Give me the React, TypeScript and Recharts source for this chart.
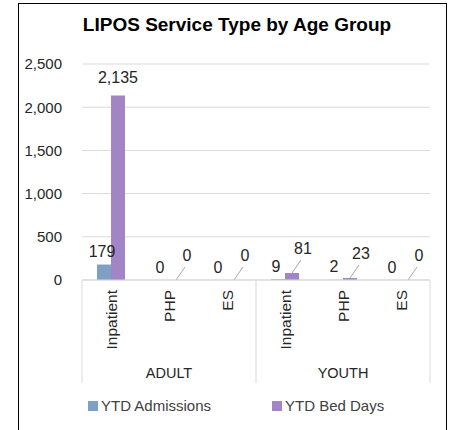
import { BarChart, Bar, XAxis, YAxis, CartesianGrid, Legend, Rectangle } from 'recharts';

const categories = ['Inpatient', 'PHP', 'ES', 'Inpatient', 'PHP', 'ES'];
const groups = ['ADULT', 'ADULT', 'ADULT', 'YOUTH', 'YOUTH', 'YOUTH'];
const admissions = [179, 0, 0, 9, 2, 0];
const bedDays = [2135, 0, 0, 81, 23, 0];
const yTicks = [0, 500, 1000, 1500, 2000, 2500];

const data = categories.map((name, i) => ({
  id: `${groups[i]}-${name}`,
  name,
  group: groups[i],
  admissions: admissions[i],
  bedDays: bedDays[i],
}));

const FONT = '"Liberation Sans", Arial, sans-serif';
const BLUE = '#7DA0C4';
const PURPLE = '#A285C6';
const TEXT = '#262626';
const HALF_BAND = 29;
const Y_MAX = yTicks[yTicks.length - 1];

const fmt = (v: number) => Number(v).toLocaleString('en-US');

function CategoryTick(props: any) {
  const { x, y, payload } = props;
  const i = payload.index;
  return (
    <g>
      <text
        x={x}
        y={y + 10}
        transform={`rotate(-90, ${x}, ${y + 10})`}
        textAnchor="end"
        dominantBaseline="central"
        fontSize={15.5}
        fill={TEXT}
        fontFamily={FONT}
      >
        {categories[i]}
      </text>
      {i % 3 === 0 && (
        <line x1={x - HALF_BAND} x2={x - HALF_BAND} y1={y} y2={y + 103} stroke="#d9d9d9" />
      )}
      {i === categories.length - 1 && (
        <line x1={x + HALF_BAND} x2={x + HALF_BAND} y1={y} y2={y + 103} stroke="#d9d9d9" />
      )}
      {i % 3 === 1 && (
        <text x={x} y={y + 93} textAnchor="middle" dominantBaseline="central" fontSize={14.5} fill={TEXT} fontFamily={FONT}>
          {groups[i]}
        </text>
      )}
    </g>
  );
}

function AdmissionShape(props: any) {
  const { x, y, width, height } = props;
  if (!(height > 0)) return <g />;
  return <Rectangle x={x} y={y} width={width} height={height} fill={BLUE} />;
}

// purple bar, plus both data labels so the text sits above every bar
function BedDaysShape(props: any) {
  const { x, y, width, height, background, payload } = props;
  const value = payload.bedDays;
  const cx = x + width / 2;

  // admissions label, placed on the neighbouring blue bar
  const base = background ? background.y + background.height : y + height;
  const perUnit = background ? background.height / Y_MAX : 0;
  const blueTop = base - payload.admissions * perUnit;
  const blueCx = x - width / 2;
  const admLabel = (
    <text x={blueCx - 2} y={blueTop - 13} textAnchor="middle" dominantBaseline="central" fontSize={16} fill={TEXT} fontFamily={FONT}>
      {fmt(payload.admissions)}
    </text>
  );

  const bar = height > 0 && <Rectangle x={x} y={y} width={width} height={height} fill={PURPLE} />;
  if (value >= 1000) {
    return (
      <g>
        {bar}
        {admLabel}
        <text x={cx} y={y - 18} textAnchor="middle" dominantBaseline="central" fontSize={16} fill={TEXT} fontFamily={FONT}>
          {fmt(value)}
        </text>
      </g>
    );
  }
  const lx = cx + 11;
  const ly = y - 25;
  return (
    <g>
      {bar}
      {admLabel}
      <line x1={cx} y1={y} x2={lx - 2} y2={ly + 12} stroke="#a6a6a6" strokeWidth={1} />
      <text x={lx} y={ly} textAnchor="middle" dominantBaseline="central" fontSize={16} fill={TEXT} fontFamily={FONT}>
        {fmt(value)}
      </text>
    </g>
  );
}

function LegendContent() {
  const items = [
    { label: 'YTD Admissions', color: BLUE, left: 88 },
    { label: 'YTD Bed Days', color: PURPLE, left: 272 },
  ];
  return (
    <div style={{ position: 'relative', width: 460, height: 47, fontFamily: FONT, fontSize: 15, color: '#404040' }}>
      {items.map((it) => (
        <div key={it.label} style={{ position: 'absolute', left: it.left, top: 14, display: 'flex', alignItems: 'center', whiteSpace: 'nowrap' }}>
          <span style={{ display: 'inline-block', width: 10, height: 10, background: it.color, marginRight: 3 }} />
          <span>{it.label}</span>
        </div>
      ))}
    </div>
  );
}

export default function App() {
  return (
    <div style={{ position: 'absolute', left: 0, top: 0, width: 460, height: 430, overflow: 'hidden', background: '#fff' }}>
      <div style={{ position: 'absolute', left: 18, top: 3, width: 429, height: 440, border: '1.5px solid #000', boxSizing: 'border-box' }} />
      <div style={{ position: 'absolute', left: 0, top: 14, width: 474, textAlign: 'center', fontFamily: FONT, fontWeight: 'bold', fontSize: 19, color: '#000' }}>
        LIPOS Service Type by Age Group
      </div>
      <BarChart
        width={460}
        height={430}
        data={data}
        margin={{ top: 64, right: 30, left: 22, bottom: 0 }}
        barGap={0}
        barSize={14}
        style={{ position: 'absolute', left: 0, top: 0 }}
      >
        <CartesianGrid vertical={false} stroke="#d9d9d9" />
        <XAxis
          dataKey="id"
          height={103}
          interval={0}
          tickLine={false}
          tickSize={0}
          tickMargin={0}
          axisLine={{ stroke: '#d9d9d9' }}
          tick={<CategoryTick />}
        />
        <YAxis
          width={60}
          domain={[0, Y_MAX]}
          ticks={yTicks}
          axisLine={false}
          tickLine={false}
          tickMargin={14}
          tick={{ fontSize: 15, fill: TEXT, fontFamily: FONT }}
          tickFormatter={(v: number) => fmt(v)}
        />
        <Legend verticalAlign="bottom" height={47} wrapperStyle={{ left: 0, width: 460 }} content={<LegendContent />} />
        <Bar dataKey="admissions" name="YTD Admissions" fill={BLUE} isAnimationActive={false} shape={<AdmissionShape />} />
        <Bar dataKey="bedDays" name="YTD Bed Days" fill={PURPLE} isAnimationActive={false} shape={<BedDaysShape />} />
      </BarChart>
    </div>
  );
}
